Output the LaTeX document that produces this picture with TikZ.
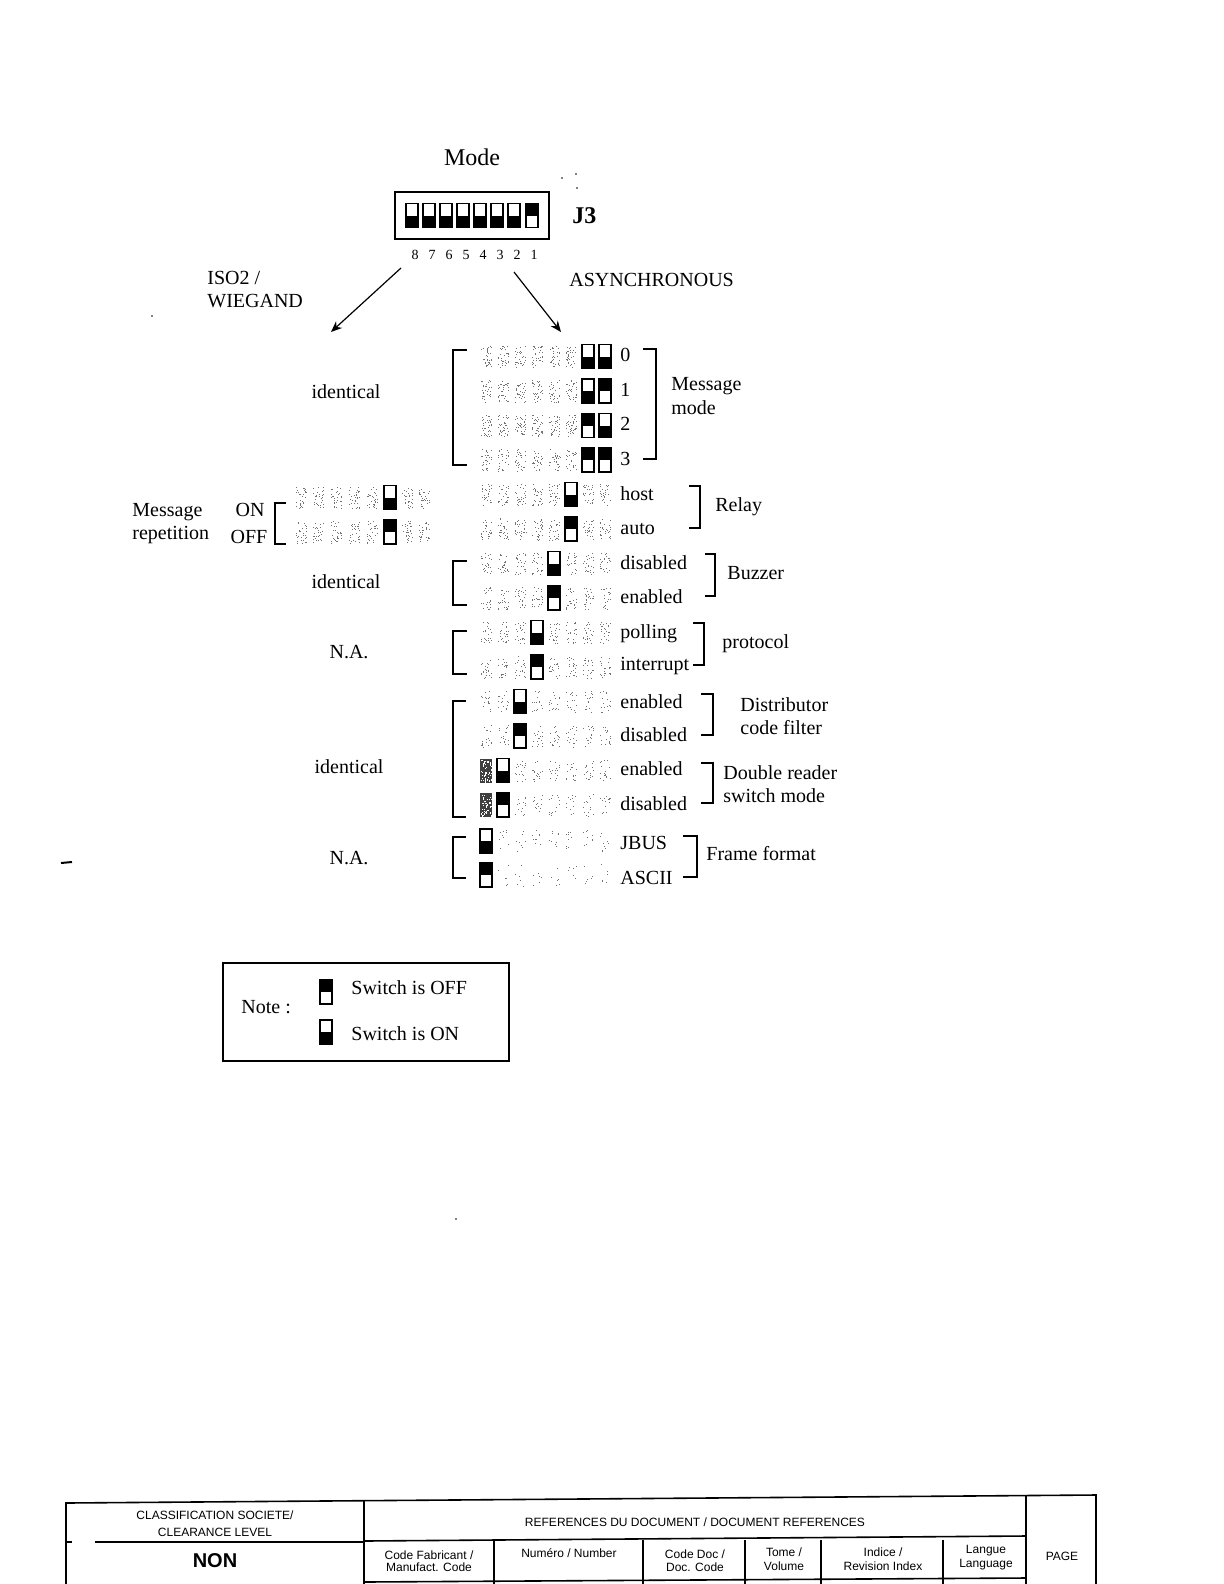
\documentclass[tikz,border=0pt]{standalone}
\usepackage{fontspec}
\setmainfont{Liberation Serif}
\newfontfamily\footfont{Liberation Sans}
\usepackage{tikz}
\usetikzlibrary{arrows.meta}

\tikzset{
    lbl/.style={font=\fontsize{10}{12}\selectfont, inner sep=0pt, anchor=west},
    midlbl/.style={lbl, anchor=center},
    digit/.style={font=\fontsize{7}{8}\selectfont, inner sep=0pt},
    foot/.style={font=\footfont\fontsize{6}{7}\selectfont, inner sep=0pt},
    rule/.style={line width=0.8pt},
    heavy/.style={line width=1.2pt},
    pics/dipon/.style={code={
        \draw[line width=0.7pt] (-6,-12) rectangle (6,12);
        \fill (-6,0) rectangle (6,12);
    }},
    pics/dipoff/.style={code={
        \draw[line width=0.7pt] (-6,-12) rectangle (6,12);
        \fill (-6,-12) rectangle (6,0);
    }},
    pics/ghost/.style={code={
        \foreach \d in {1,...,#1} {
            \fill[black!55] ({5.5*rand},{11*rand}) rectangle +(1,1);
        }
    }},
    pics/ghostdark/.style={code={
        \fill[black!75] (-6,-12) rectangle (6,12);
        \foreach \d in {1,...,40} {
            \fill[white] ({5.5*rand},{11*rand}) rectangle +(1.2,1.2);
        }
    }}
}

\newcommand{\ghostrow}[3]{\foreach \gx in {#2} {\pic at (\gx,#1) {ghost=#3};}}

\begin{document}
\begin{tikzpicture}[x=0.5pt, y=-0.5pt]
    \useasboundingbox (0,0) rectangle (1224,1584);
    \pgfmathsetseed{11}

    % Mode switch J3
    \node[midlbl, font=\fontsize{12}{14}\selectfont] (modeLbl) at (472,157) {Mode};
    \draw[rule] (395,192) rectangle (549,239);
    \foreach \sx in {412,429,446,463,480,497,514} {\pic at (\sx,215.5) {dipon};}
    \pic at (532,215.5) {dipoff};
    \node[lbl, font=\bfseries\fontsize{12}{14}\selectfont] (jLbl) at (572,216) {J3};
    \foreach \n/\sx in {8/415,7/432,6/449,5/466,4/483,3/500,2/517,1/534} {
        \node[digit] (dig\n) at (\sx,255) {\n};
    }

    % Two branches
    \coordinate (isoStart) at (401,268);
    \coordinate (isoEnd) at (331,332);
    \coordinate (asyStart) at (514,272);
    \coordinate (asyEnd) at (561,332);
    \draw[line width=0.6pt, -{Stealth[length=5.5pt, width=4.5pt]}] (isoStart) -- (isoEnd);
    \draw[line width=0.6pt, -{Stealth[length=5.5pt, width=4.5pt]}] (asyStart) -- (asyEnd);
    \node[lbl] (isoLbl) at (207,278) {ISO2 /};
    \node[lbl] (wieLbl) at (207,301) {WIEGAND};
    \node[lbl] (asyLbl) at (569,280) {ASYNCHRONOUS};

    % Message mode
    \ghostrow{356.5}{486,503,520,537,554,571}{32}
    \ghostrow{391}{486,503,520,537,554,571}{34}
    \ghostrow{425.5}{486,503,520,537,554,571}{36}
    \ghostrow{460}{486,503,520,537,554,571}{28}
    \pic at (588,356.5) {dipon}; \pic at (605,356.5) {dipon};
    \pic at (588,391) {dipon}; \pic at (605,391) {dipoff};
    \pic at (588,425.5) {dipoff}; \pic at (605,425.5) {dipon};
    \pic at (588,460) {dipoff}; \pic at (605,460) {dipoff};
    \draw[heavy] (467,350) -- (453,350) -- (453,465) -- (467,465);
    \draw[rule] (643,349) -- (656,349) -- (656,459) -- (643,459);
    \node[lbl] (mode0) at (620,355) {0};
    \node[lbl] (mode1) at (620,390) {1};
    \node[lbl] (mode2) at (620,424) {2};
    \node[lbl] (mode3) at (620,459) {3};
    \node[lbl] (msgLbl) at (671,386) {Message};
    \node[lbl] (msgLblb) at (671,408) {mode};
    \node[midlbl] (idA) at (346,392) {identical};

    % Relay
    \ghostrow{494.5}{486,503,520,537,554,588,605}{28}
    \ghostrow{529}{486,503,520,537,554,588,605}{28}
    \pic at (571,494.5) {dipon};
    \pic at (571,529) {dipoff};
    \draw[rule] (689,486) -- (700,486) -- (700,528) -- (689,528);
    \node[lbl] (hostLbl) at (620,494) {host};
    \node[lbl] (autoLbl) at (620,529) {auto};
    \node[lbl] (relayLbl) at (715,507) {Relay};

    % Message repetition
    \ghostrow{497.5}{301,318,336,354,372,407,424}{30}
    \ghostrow{532}{301,318,336,354,372,407,424}{30}
    \pic at (390,497.5) {dipon};
    \pic at (390,532) {dipoff};
    \draw[heavy] (286,503) -- (275,503) -- (275,544) -- (286,544);
    \node[lbl] (repLbl) at (132,512) {Message};
    \node[lbl] (repLblb) at (132,535) {repetition};
    \node[midlbl] (onLbl) at (250,510) {ON};
    \node[midlbl] (offLbl) at (249,537) {OFF};

    % Buzzer
    \ghostrow{563.5}{486,503,520,537,571,588,605}{24}
    \ghostrow{598}{486,503,520,537,571,588,605}{24}
    \pic at (554,563.5) {dipon};
    \pic at (554,598) {dipoff};
    \draw[heavy] (467,561) -- (453,561) -- (453,605) -- (467,605);
    \draw[rule] (705,554) -- (715,554) -- (715,596) -- (705,596);
    \node[lbl] (disA) at (620,562.5) {disabled};
    \node[lbl] (enaA) at (620,597) {enabled};
    \node[lbl] (buzLbl) at (727,573) {Buzzer};
    \node[midlbl] (idB) at (346,582) {identical};

    % Protocol
    \ghostrow{632.5}{486,503,520,554,571,588,605}{24}
    \ghostrow{667}{486,503,520,554,571,588,605}{22}
    \pic at (537,632.5) {dipon};
    \pic at (537,667) {dipoff};
    \draw[heavy] (467,631) -- (453,631) -- (453,674) -- (467,674);
    \draw[rule] (693,623) -- (704,623) -- (704,665) -- (693,665);
    \node[lbl] (polLbl) at (620,634) {polling};
    \node[lbl] (intLbl) at (620,666.5) {interrupt};
    \node[lbl] (proLbl) at (722,644) {protocol};
    \node[midlbl] (naA) at (349,652) {N.A.};

    % Distributor code filter and double reader
    \ghostrow{701.5}{486,503,537,554,571,588,605}{16}
    \ghostrow{736}{486,503,537,554,571,588,605}{18}
    \pic at (520,701.5) {dipon};
    \pic at (520,736) {dipoff};
    \pic at (486,770.5) {ghostdark};
    \pic at (486,805) {ghostdark};
    \ghostrow{770.5}{520,537,554,571,588,605}{18}
    \ghostrow{805}{520,537,554,571,588,605}{14}
    \pic at (503,770.5) {dipon};
    \pic at (503,805) {dipoff};
    \draw[heavy] (466,701) -- (453,701) -- (453,817) -- (466,817);
    \draw[rule] (701,694) -- (713,694) -- (713,735) -- (701,735);
    \draw[rule] (701,763) -- (713,763) -- (713,803) -- (701,803);
    \node[lbl] (enaB) at (620,702) {enabled};
    \node[lbl] (disB) at (620,735) {disabled};
    \node[lbl] (enaC) at (620,769) {enabled};
    \node[lbl] (disC) at (620,804) {disabled};
    \node[lbl] (disLbl) at (740,705) {Distributor};
    \node[lbl] (disLblb) at (740,728) {code filter};
    \node[lbl] (dblLbl) at (723,773) {Double reader};
    \node[lbl] (dblLblb) at (723,796) {switch mode};
    \node[midlbl] (idC) at (349,767) {identical};

    % Frame format
    \ghostrow{840.5}{503,520,537,554,571,588,605}{9}
    \ghostrow{875}{503,520,537,554,571,588,605}{6}
    \pic at (486,841) {dipon};
    \pic at (486,875) {dipoff};
    \draw[heavy] (466,837) -- (453,837) -- (453,878) -- (466,878);
    \draw[rule] (683,836) -- (697,836) -- (697,877) -- (683,877);
    \node[lbl] (jbusLbl) at (620,843) {JBUS};
    \node[lbl] (asciiLbl) at (620,878) {ASCII};
    \node[lbl] (frmLbl) at (706,854) {Frame format};
    \node[midlbl] (naB) at (349,858) {N.A.};

    % Note box
    \draw[rule] (223,963) rectangle (509,1061);
    \node[lbl] (noteLbl) at (241,1007) {Note :};
    \pic at (326,992) {dipoff};
    \pic at (326,1032) {dipon};
    \node[lbl] (offNote) at (351,988) {Switch is OFF};
    \node[lbl] (onNote) at (351,1034) {Switch is ON};

    % Footer table
    \draw[rule] (66,1584) -- (66,1503) -- (1096,1495) -- (1096,1584);
    \draw[rule] (364,1501) -- (364,1584);
    \draw[rule] (1026,1496) -- (1026,1584);
    \draw[rule] (95,1542) -- (364,1542);
    \draw[rule] (66,1542) -- (72,1542);
    \draw[rule] (364,1541) -- (1026,1536);
    \draw[rule] (364,1582) -- (1026,1578);
    \foreach \fx in {494,643,745,821,943} {\draw[rule] (\fx,1540) -- (\fx,1584);}
    \node[foot] (clsA) at (215,1515) {CLASSIFICATION SOCIETE/};
    \node[foot] (clsB) at (215,1532) {CLEARANCE LEVEL};
    \node[foot, font=\footfont\bfseries\fontsize{10}{12}\selectfont] (nonLbl) at (215,1561) {NON};
    \node[foot] (refLbl) at (695,1522) {REFERENCES DU DOCUMENT / DOCUMENT REFERENCES};
    \node[foot] (fabA) at (429,1555) {Code Fabricant /};
    \node[foot] (fabB) at (429,1567) {Manufact. Code};
    \node[foot] (numLbl) at (569,1553) {Numéro / Number};
    \node[foot] (docA) at (695,1554) {Code Doc /};
    \node[foot] (docB) at (695,1567) {Doc. Code};
    \node[foot] (tomA) at (784,1552) {Tome /};
    \node[foot] (tomB) at (784,1566) {Volume};
    \node[foot] (indA) at (883,1552) {Indice /};
    \node[foot] (indB) at (883,1566) {Revision Index};
    \node[foot] (lanA) at (986,1551) {Langue};
    \node[foot] (lanB) at (986,1565) {Language};
    \node[foot] (pagLbl) at (1062,1556) {PAGE};

    % Scan specks
    \draw[line width=1pt] (61,863) -- (72,862);
    \foreach \px/\py in {562/178,576/174,577/188,456/1219,152/316} {\fill (\px,\py) circle (0.8);}
\end{tikzpicture}
\end{document}
